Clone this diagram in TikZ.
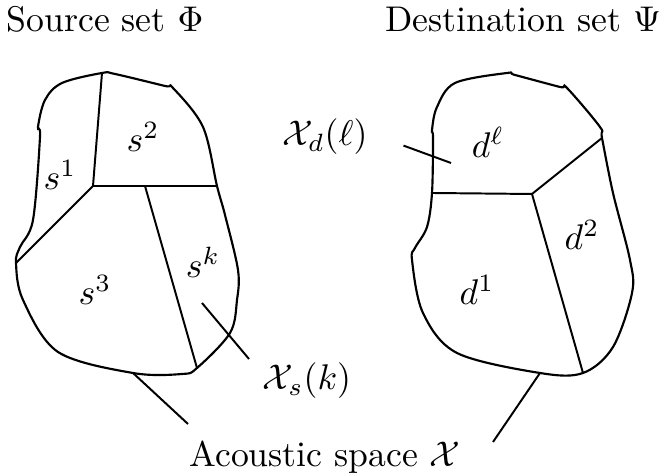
\documentclass[tikz,border=0pt]{standalone}
\usepackage{amsmath}
\usepackage{amssymb}
\usepackage{tikz}
\usetikzlibrary{positioning,calc}

\begin{document}
\begin{tikzpicture}[x=0.28pt, y=-0.28pt,
    blob/.style={line width=0.6pt},
    part/.style={line width=0.55pt},
    pointer/.style={line width=0.55pt},
    title/.style={inner sep=1pt, anchor=base}]
  \useasboundingbox (0,0) rectangle (669,474);

  % Titles
  \node[title] (src) at (105,32) {Source set $\Phi$};
  \node[title] (dst) at (523,32) {Destination set $\Psi$};

  % Source set outline
  \draw[blob] plot[smooth cycle, tension=0.55] coordinates {
    (62,83) (102,73) (115,74) (165,86) (173,88) (203,127) (217,186)
    (225,215) (238,270) (237,300) (230,333) (197,368) (182,374)
    (133,373) (58,352) (23,300) (16,263) (20,247) (33,220) (40,137)
    (38,127) (45,100)};

  % Source cells
  \coordinate (sc) at (93,186);
  \coordinate (st) at (102,73);
  \coordinate (sr) at (217,186);
  \coordinate (sl) at (16,263);
  \coordinate (sm) at (145,186);
  \coordinate (sb) at (197,368);
  \draw[part] (st) -- (sc) -- (sr);
  \draw[part] (sc) -- (sl);
  \draw[part] (sm) -- (sb);

  \node (s1) at (60,175) {$s^1$};
  \node (s2) at (143,137) {$s^2$};
  \node (s3) at (95,290) {$s^3$};
  \node (sk) at (203,262) {$s^k$};

  % Destination set outline
  \draw[blob] plot[smooth cycle, tension=0.55] coordinates {
    (455,83) (507,73) (515,75) (560,87) (567,88) (600,127) (602,138)
    (613,193) (630,260) (632,293) (613,347) (583,373) (540,373)
    (457,353) (423,313) (412,260) (415,248) (427,227) (432,193)
    (433,138) (432,130) (437,107)};

  % Destination cells
  \coordinate (dc) at (532,194);
  \coordinate (dw) at (432,193);
  \coordinate (de) at (602,138);
  \coordinate (db) at (583,373);
  \draw[part] (dw) -- (dc) -- (de);
  \draw[part] (dc) -- (db);

  \node (dl) at (488,142) {$d^\ell$};
  \node (d2) at (582,235) {$d^2$};
  \node (d1) at (477,290) {$d^1$};

  % Region labels and pointers
  \node (xd) at (325,137) {$\mathcal{X}_d(\ell)$};
  \coordinate (pd) at (451,163);
  \draw[pointer, shorten <=7pt] (xd.east) -- (pd);

  \node (xs) at (307,381) {$\mathcal{X}_s(k)$};
  \coordinate (ps) at (202,303);
  \coordinate (ps2) at (249,359);
  \draw[pointer] (ps) -- (ps2);

  % Acoustic space
  \node[title] (ac) at (325,467) {Acoustic space $\mathcal{X}$};
  \coordinate (al) at (133,373);
  \coordinate (ar) at (540,373);
  \coordinate (al2) at (188,424);
  \coordinate (ar2) at (493,442);
  \draw[pointer] (al) -- (al2);
  \draw[pointer] (ar) -- (ar2);

\end{tikzpicture}
\end{document}
